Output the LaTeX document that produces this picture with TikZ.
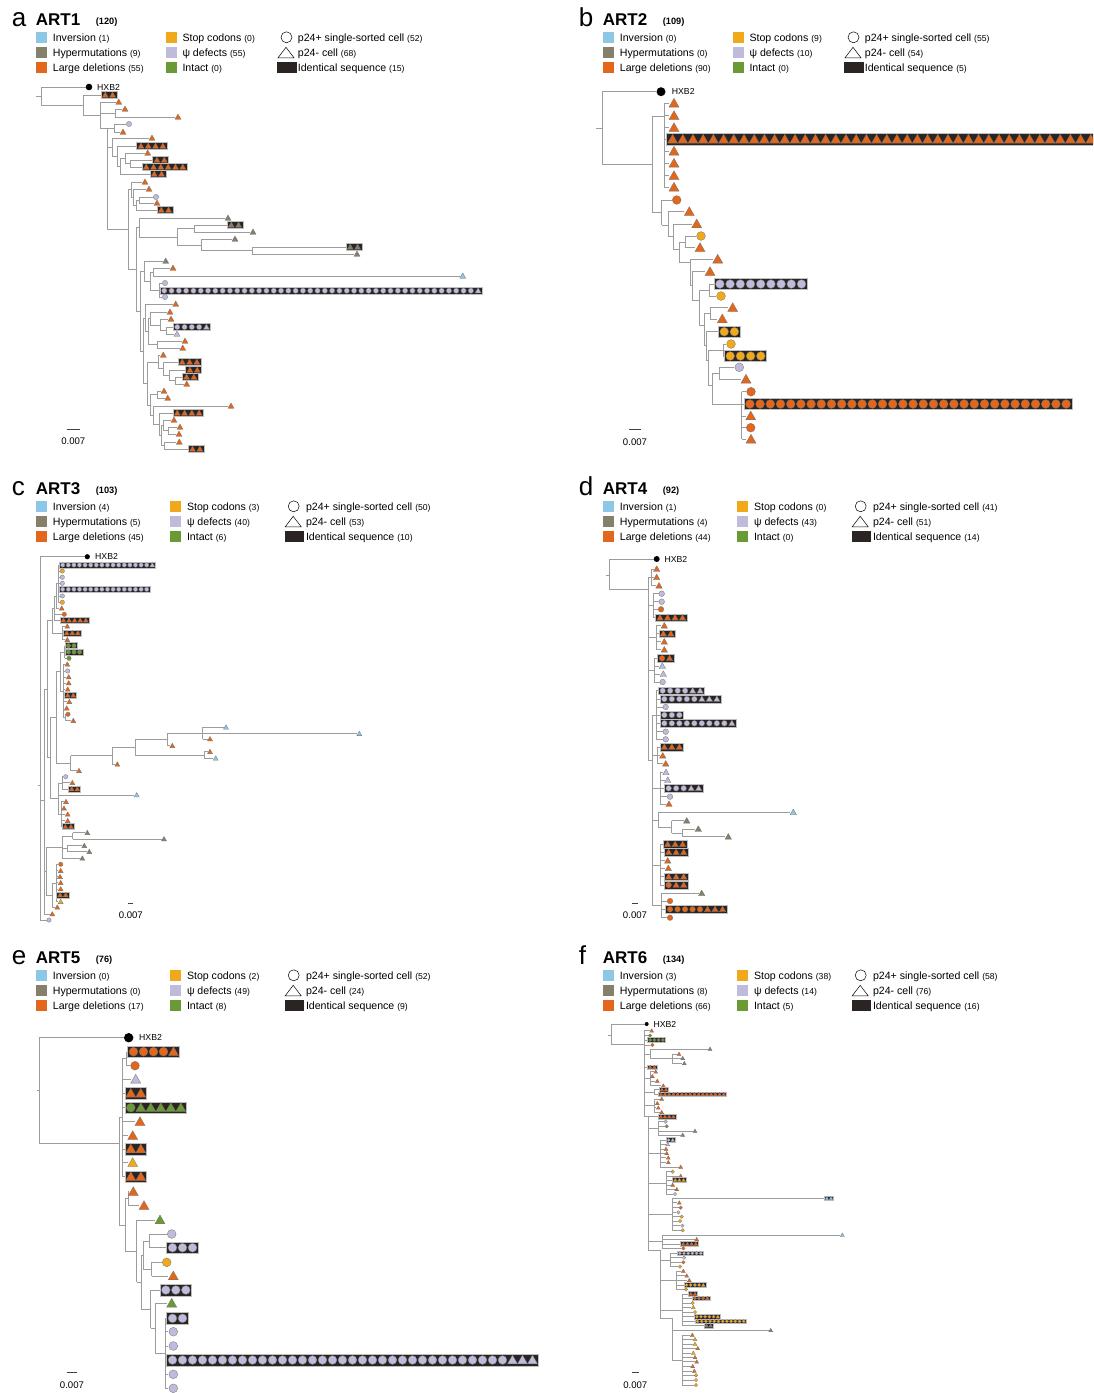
\documentclass[tikz,border=0pt]{standalone}
\usepackage{fontspec}
\setmainfont{Liberation Sans}

\definecolor{invc}{HTML}{8CC8E6}
\definecolor{hypc}{HTML}{857F6C}
\definecolor{delc}{HTML}{E2661B}
\definecolor{stpc}{HTML}{F1A91C}
\definecolor{psic}{HTML}{BEBBDB}
\definecolor{intc}{HTML}{6A9A35}
\definecolor{boxc}{HTML}{2A2422}
\definecolor{brc}{HTML}{9C9C9C}

\newcommand{\lgf}{\fontsize{10.6}{12}\selectfont}
\newcommand{\cntf}{\fontsize{8.6}{10}\selectfont}
\newcommand{\letf}{\fontsize{26}{30}\selectfont}
\newcommand{\titf}{\fontsize{17}{20}\selectfont\bfseries}
\newcommand{\hcnf}{\fontsize{9.2}{11}\selectfont\bfseries}
\newcommand{\hxbf}{\fontsize{8.7}{10}\selectfont}
\newcommand{\sclf}{\fontsize{9.6}{11}\selectfont}

% symbols: upper case = p24- triangle, lower case = p24+ circle
\newcommand{\trisym}[3]{\filldraw[symedge, fill=#1] ({#2-\symr},{#3+0.76*\symr}) -- ({#2+\symr},{#3+0.76*\symr}) -- ({#2},{#3-\symr}) -- cycle;}
\newcommand{\cirsym}[3]{\filldraw[symedge, fill=#1] ({#2},{#3}) circle[radius={0.88*\symr}];}
\newcommand{\symO}[2]{\trisym{delc}{#1}{#2}}
\newcommand{\symo}[2]{\cirsym{delc}{#1}{#2}}
\newcommand{\symL}[2]{\trisym{psic}{#1}{#2}}
\newcommand{\syml}[2]{\cirsym{psic}{#1}{#2}}
\newcommand{\symG}[2]{\trisym{hypc}{#1}{#2}}
\newcommand{\symg}[2]{\cirsym{hypc}{#1}{#2}}
\newcommand{\symB}[2]{\trisym{invc}{#1}{#2}}
\newcommand{\symb}[2]{\cirsym{invc}{#1}{#2}}
\newcommand{\symY}[2]{\trisym{stpc}{#1}{#2}}
\newcommand{\symy}[2]{\cirsym{stpc}{#1}{#2}}
\newcommand{\symN}[2]{\trisym{intc}{#1}{#2}}
\newcommand{\symn}[2]{\cirsym{intc}{#1}{#2}}
\newcommand{\symk}[2]{\fill[black] ({#1},{#2}) circle[radius=\dotr];}

% clade: parent x, x, top y, bottom y, y where it hangs
\newcommand{\cl}[5]{\draw[br] (#1,#5) -- (#2,#5); \draw[br] (#2,#3) -- (#2,#4);}
% single leaf: parent x, y, symbol centre x, code
\newcommand{\lf}[4]{\draw[br] (#1,#2) -- ({#3-\symr},#2); \csname sym#4\endcsname{#3}{#2}}
% identical sequences: parent x, y, box left x, code/count list
\newcommand{\bx}[4]{%
  \draw[br] (#1,#2) -- (#3,#2);
  \gdef\nn{0}%
  \foreach \cd/\nm in {#4} {\pgfmathtruncatemacro\tot{\nn+\nm}\global\let\nn\tot}%
  \filldraw[idbox] ({#3},{#2-\boxh}) rectangle ({#3+\nn*\symsep+2*\boxpad},{#2+\boxh});
  \gdef\nn{0}%
  \foreach \cd/\nm in {#4} {%
    \foreach \kk in {1,...,\nm} {\csname sym\cd\endcsname{#3+\boxpad+(\nn+\kk-0.5)*\symsep}{#2}}%
    \pgfmathtruncatemacro\tot{\nn+\nm}\global\let\nn\tot}%
}
\newcommand{\hdr}[3]{%
  \node[anchor=base west, inner sep=0pt, font=\letf] (\pn-let) at (11.7,26) {#1};
  \node[anchor=base west, inner sep=0pt, font=\titf] (\pn-tit) at (35.7,25) {#2};
  \node[anchor=base west, inner sep=0pt, font=\hcnf] (\pn-num) at (95.7,24) {(#3)};}
\newcommand{\lgd}[9]{%
  \fill[invc] (35.7,32.3) rectangle ++(11,10.5);
  \fill[hypc] (35.7,47.3) rectangle ++(11,10.5);
  \fill[delc] (35.7,62.3) rectangle ++(11,10.5);
  \node[lgtxt] (\pn-inv) at (52.7,41.3) {Inversion \cntf(#1)};
  \node[lgtxt] (\pn-hyp) at (52.7,56.3) {Hypermutations \cntf(#2)};
  \node[lgtxt] (\pn-del) at (52.7,71.3) {Large deletions \cntf(#3)};
  \fill[stpc] ({165.7+\lsh},32.3) rectangle ++(11,10.5);
  \fill[psic] ({165.7+\lsh},47.3) rectangle ++(11,10.5);
  \fill[intc] ({165.7+\lsh},62.3) rectangle ++(11,10.5);
  \node[lgtxt] (\pn-stp) at ({182.3+\lsh},41.3) {Stop codons \cntf(#4)};
  \node[lgtxt] (\pn-psi) at ({182.3+\lsh},56.3) {ψ defects \cntf(#5)};
  \node[lgtxt] (\pn-int) at ({182.3+\lsh},71.3) {Intact \cntf(#6)};
  \draw[lgsym] ({286.5+1.6*\lsh},37.3) circle[radius=5.5];
  \draw[lgsym] ({278+1.6*\lsh},57.8) -- ++(16,0) -- ++(-8,-10.5) -- cycle;
  \fill[boxc] ({277.3+1.6*\lsh},62.3) rectangle ++(19.4,10.5);
  \node[lgtxt] (\pn-pos) at ({297.7+1.8*\lsh},41.3) {p24+ single-sorted cell \cntf(#7)};
  \node[lgtxt] (\pn-neg) at ({297.7+1.8*\lsh},56.3) {p24- cell \cntf(#8)};
  \node[lgtxt] (\pn-idn) at ({297.7+1.8*\lsh},71.3) {Identical sequence \cntf(#9)};}
\newcommand{\sbar}[3]{\draw[sclbar] ({#1-#2},#3) -- ({#1+#2},#3);
  \node[sctxt] (\pn-scl) at (#1,{#3+15.3}) {0.007};}

\begin{document}
\begin{tikzpicture}[x=1pt, y=-1pt,
  br/.style={draw=brc, line width=0.6pt},
  symedge/.style={draw=black!55, line width=0.3pt},
  idbox/.style={fill=boxc, draw=black!25, line width=0.5pt},
  lgtxt/.style={anchor=base west, inner sep=0pt, font=\lgf},
  lgsym/.style={draw=black, line width=0.5pt},
  hxb/.style={anchor=west, inner sep=0pt, font=\hxbf},
  sclbar/.style={draw=black!75, line width=0.9pt},
  sctxt/.style={anchor=base, inner sep=0pt, font=\sclf}]
\fill[white] (0,0) rectangle (1093,1393);
\useasboundingbox (0,0) rectangle (1093,1393);
\clip (0,0) rectangle (1093,1393);

% ---- a: ART1
\begin{scope}
\def\pn{a}\def\symsep{7.3}\def\symr{3}\def\boxh{3.6}\def\boxpad{0.6}\def\dotr{3.3}
\begin{scope}[shift={(0,0)}]\def\lsh{0}
\hdr{a}{ART1}{120}
\lgd{1}{9}{55}{0}{55}{0}{52}{68}{15}
\end{scope}
\cl{36}{41}{87}{105}{96}
\lf{41}{87}{89}{k}
\node[hxb] (a-hxb) at (97,87) {HXB2};
\cl{41}{83}{95}{115}{105}
\bx{83}{95}{101}{O/2}
\cl{83}{100}{102}{128}{115}
\lf{100}{102}{118.7}{O}
\cl{100}{115}{109}{117}{113}
\lf{115}{109}{125}{O}
\lf{115}{117}{178}{O}
\cl{100}{107}{128}{229}{128}
\cl{107}{114}{124}{132}{128}
\lf{114}{124}{129}{l}
\lf{114}{132}{123}{O}
\cl{107}{112}{138}{156}{147}
\lf{112}{138}{152}{O}
\cl{112}{117}{146}{166}{156}
\bx{117}{146}{136.7}{O/4}
\cl{117}{120}{158}{174}{166}
\cl{120}{125}{153}{163.5}{158}
\lf{125}{153}{147.7}{O}
\cl{125}{130}{160}{167}{163.5}
\bx{130}{160}{152.7}{O/2}
\bx{130}{167}{142}{O/6}
\bx{120}{174}{150}{O/2}
\cl{107}{128}{189.5}{269}{229}
\cl{128}{131}{182}{197}{189.5}
\lf{131}{182}{145}{O}
\cl{131}{133}{189}{205}{197}
\lf{133}{189}{149}{O}
\cl{133}{136}{200}{210}{205}
\cl{136}{139}{197}{203}{200}
\lf{139}{197}{156}{l}
\lf{139}{203}{157}{O}
\bx{136}{210}{157}{O/2}
\cl{128}{136}{227.5}{311}{269}
\cl{136}{139}{218}{237}{227.5}
\lf{139}{218}{228}{G}
\cl{139}{177}{228.5}{245}{237}
\cl{177}{194}{225}{232}{228.5}
\bx{194}{225}{227}{G/2}
\lf{194}{232}{253}{G}
\cl{177}{201}{239}{250.5}{245}
\lf{201}{239}{235}{G}
\cl{201}{252}{247}{254}{250.5}
\bx{252}{247}{346}{G/2}
\lf{252}{254}{357}{G}
\cl{136}{140}{271}{351}{311}
\cl{140}{144}{261}{281}{271}
\lf{144}{261}{165.7}{G}
\cl{144}{150}{272}{290}{281}
\cl{150}{153}{268}{276}{272}
\lf{153}{268}{173}{O}
\lf{153}{276}{462.7}{B}
\cl{150}{159}{283}{297}{290}
\lf{159}{283}{165}{l}
\bx{159}{290.7}{160}{l/43,L/1}
\lf{159}{297}{165}{l}
\cl{140}{143}{318}{383.5}{351}
\cl{143}{145}{304}{331.5}{318}
\lf{145}{304}{175.7}{O}
\cl{145}{148}{318.5}{344.5}{331.5}
\cl{148}{150}{312}{325}{318.5}
\lf{150}{312}{170}{O}
\cl{150}{160}{319}{330.5}{325}
\lf{160}{319}{171}{O}
\cl{160}{166}{327}{334}{330.5}
\bx{166}{327}{173}{l/4,L/1}
\lf{166}{334}{177}{L}
\cl{148}{157}{341}{348}{344.5}
\lf{157}{341}{185}{O}
\lf{157}{348}{182.7}{O}
\cl{143}{147}{362}{405}{383.5}
\cl{147}{158}{355}{368.5}{362}
\lf{158}{355}{163.3}{O}
\cl{158}{163}{362}{375}{368.5}
\bx{163}{362}{178}{O/3}
\cl{163}{169}{370}{380.5}{375}
\bx{169}{370}{185.7}{O/2}
\cl{169}{175}{377}{384}{380.5}
\bx{175}{377}{182.3}{O/2}
\lf{175}{384}{186.7}{O}
\cl{147}{150}{394.5}{415}{405}
\cl{150}{157}{391}{398}{394.5}
\lf{157}{391}{164}{O}
\lf{157}{398}{167.7}{O}
\cl{150}{153}{406}{424}{415}
\lf{153}{406}{231}{O}
\cl{153}{159}{413}{435}{424}
\bx{159}{413}{173}{O/4}
\cl{159}{161}{425}{445.5}{435}
\cl{161}{163}{420}{430.5}{425}
\lf{163}{420}{174}{O}
\cl{163}{168}{427}{434}{430.5}
\lf{168}{427}{180}{O}
\lf{168}{434}{179}{O}
\cl{161}{164}{442}{449}{445.5}
\lf{164}{442}{179.3}{O}
\bx{164}{449}{188.3}{O/2}
\sbar{73.3}{6.7}{429}
\end{scope}

% ---- b: ART2
\begin{scope}
\def\pn{b}\def\symsep{10.2}\def\symr{5}\def\boxh{5.6}\def\boxpad{0.8}\def\dotr{4.5}
\begin{scope}[shift={(567,0)}]\def\lsh{0}
\hdr{b}{ART2}{109}
\lgd{0}{0}{90}{9}{10}{0}{55}{54}{5}
\end{scope}
\cl{596}{602.3}{91.7}{164.3}{128.3}
\lf{602.3}{91.7}{661}{k}
\node[hxb] (b-hxb) at (671.7,91.7) {HXB2};
\cl{602.3}{652.7}{116}{212.7}{164.3}
\cl{652.7}{664}{103.3}{187.3}{116}
\lf{664}{103.3}{674}{O}
\lf{664}{115.7}{674}{O}
\lf{664}{127.7}{674}{O}
\bx{664}{139.3}{666.7}{O/42}
\lf{664}{151.3}{674}{O}
\lf{664}{163.3}{674}{O}
\lf{664}{175.7}{674}{O}
\lf{664}{187.3}{674}{O}
\cl{652.7}{661.7}{200}{225}{212.7}
\lf{661.7}{200}{676.7}{o}
\cl{661.7}{668.3}{211.7}{236.7}{225}
\lf{668.3}{211.7}{689.3}{O}
\cl{668.3}{673.3}{224}{249.3}{236.7}
\lf{673.3}{224}{696.7}{O}
\cl{673.3}{679.3}{241.8}{262}{249.3}
\cl{679.3}{685}{236}{247.7}{241.8}
\lf{685}{236}{701}{y}
\lf{685}{247.7}{700}{O}
\cl{679.3}{690}{259.3}{285}{262}
\lf{690}{259.3}{717.7}{O}
\cl{690}{692.3}{271.7}{300}{285}
\lf{692.3}{271.7}{710}{O}
\cl{692.3}{699}{290}{325}{300}
\cl{699}{709}{284}{296}{290}
\bx{709}{284}{714}{l/9}
\lf{709}{296}{721}{y}
\cl{699}{704}{313.3}{345}{325}
\cl{704}{710}{307.7}{319}{313.3}
\lf{710}{307.7}{732.7}{O}
\lf{710}{319}{722.3}{O}
\cl{704}{706}{331.7}{360}{345}
\bx{706}{331.7}{718.3}{y/2}
\cl{706}{708}{350}{385}{360}
\cl{708}{723.3}{344}{356}{350}
\lf{723.3}{344}{731}{y}
\bx{723.3}{356}{724.3}{y/4}
\cl{708}{712}{373.3}{404}{385}
\cl{712}{719}{367.3}{379.3}{373.3}
\lf{719}{367.3}{739.3}{l}
\lf{719}{379.3}{746}{O}
\cl{712}{741.7}{391.7}{439.3}{404}
\lf{741.7}{391.7}{751}{o}
\bx{741.7}{404}{744}{o/32}
\lf{741.7}{416}{750.7}{O}
\lf{741.7}{427.7}{750.7}{o}
\lf{741.7}{439.3}{751}{O}
\sbar{635}{5.7}{429.7}
\end{scope}

% ---- c: ART3
\begin{scope}
\def\pn{c}\def\symsep{5.6}\def\symr{2.5}\def\boxh{3}\def\boxpad{0.6}\def\dotr{2.6}
\begin{scope}[shift={(0,469)}]\def\lsh{4.5}
\hdr{c}{ART3}{103}
\lgd{4}{5}{45}{3}{40}{6}{50}{53}{10}
\end{scope}
\cl{37.5}{40}{556.7}{920}{785}
\lf{40}{556.7}{87.3}{k}
\node[hxb] (c-hxb) at (95,556.7) {HXB2};
\cl{56}{58.3}{565}{602.3}{583.7}
\bx{58.3}{565}{59.3}{l/16,L/1}
\lf{58.3}{571}{62.3}{y}
\lf{58.3}{577.3}{62.3}{l}
\lf{58.3}{583.3}{62.3}{l}
\bx{58.3}{589.3}{59.3}{l/16}
\lf{58.3}{596}{62.3}{l}
\lf{58.3}{602.3}{62.3}{y}
\cl{54}{56}{583.7}{608.3}{596}
\lf{56}{608.3}{61.7}{O}
\cl{52}{54}{596}{620.3}{608}
\lf{54}{614.3}{64.3}{o}
\bx{54}{620.3}{60}{O/5}
\cl{52}{62}{626.3}{639.7}{633}
\lf{62}{626.3}{67.3}{O}
\bx{62}{633}{63.3}{O/3}
\lf{62}{639.7}{67.3}{O}
\cl{47}{52}{608}{633}{620.5}
\cl{60}{64.7}{645.7}{658.3}{652}
\bx{64.7}{645.7}{65}{n/2}
\bx{64.7}{652}{65}{n/3}
\lf{64.7}{658.3}{69}{n}
\cl{60}{63}{664.3}{717.5}{691}
\lf{63}{664.3}{67.3}{O}
\lf{63}{671}{67.7}{l}
\lf{63}{677}{68.7}{O}
\lf{63}{683}{68.7}{O}
\lf{63}{689.3}{67.7}{O}
\bx{63}{695.3}{64.3}{O/2}
\lf{63}{701.7}{69.3}{O}
\lf{63}{708.3}{66.7}{O}
\cl{63}{65}{714.3}{720.7}{717.5}
\lf{65}{714.3}{68}{o}
\lf{65}{720.7}{73.3}{O}
\cl{56}{60}{652}{691}{671.5}
\cl{167.3}{202.7}{727.3}{739}{733}
\lf{202.7}{727.3}{226}{B}
\lf{202.7}{733.7}{359.3}{B}
\lf{202.7}{739}{210}{O}
\cl{135}{167.3}{733}{745.7}{739.4}
\lf{167.3}{745.7}{172.3}{O}
\cl{135}{204}{751.7}{758.3}{755}
\lf{204}{751.7}{210}{O}
\lf{204}{758.3}{215.7}{B}
\cl{112.3}{135}{739.4}{755}{747}
\cl{70.7}{112.3}{747}{764.3}{755.6}
\lf{112.3}{764.3}{117.3}{O}
\cl{56}{70.7}{755.6}{770.7}{763}
\lf{70.7}{770.7}{79}{O}
\cl{50}{56}{671.5}{763}{717}
\cl{50}{58}{782.8}{814}{798}
\cl{58}{62}{776.7}{789}{782.8}
\lf{62}{776.7}{65.7}{l}
\lf{62}{782.7}{72.3}{O}
\bx{62}{789}{68.3}{O/2}
\lf{58}{795}{136.7}{B}
\cl{58}{61}{801.7}{826.7}{814}
\lf{61}{801.7}{66}{O}
\lf{61}{808.3}{64}{O}
\lf{61}{814.3}{67.7}{O}
\lf{61}{820.7}{67.7}{O}
\bx{61}{826.7}{62}{O/2}
\cl{47}{50}{717}{798}{757.5}
\cl{44}{47}{620.5}{757.5}{689}
\cl{62}{72.7}{832.7}{839}{836}
\lf{72.7}{832.7}{87.3}{G}
\lf{72.7}{839}{164}{G}
\cl{62}{67.3}{845.7}{851.7}{848.7}
\lf{67.3}{845.7}{84.3}{G}
\lf{67.3}{851.7}{89.3}{G}
\cl{46}{62}{836}{858.3}{847}
\lf{62}{858.3}{82.3}{G}
\cl{52}{56}{864.3}{901.7}{883}
\lf{56}{864.3}{60.7}{o}
\lf{56}{870.7}{60.7}{O}
\lf{56}{876.7}{60}{O}
\lf{56}{882.7}{60.7}{O}
\lf{56}{889}{60.7}{O}
\bx{56}{895}{56.7}{O/2}
\lf{56}{901.7}{60.7}{Y}
\cl{46}{52}{883}{907.3}{895}
\lf{52}{907.3}{57.3}{O}
\cl{44}{46}{847}{895}{871}
\cl{40}{44}{689}{914}{800}
\lf{44}{914}{52.3}{O}
\lf{40}{920}{49}{l}
\sbar{130.8}{2.5}{903.3}
\end{scope}

% ---- d: ART4
\begin{scope}
\def\pn{d}\def\symsep{7.5}\def\symr{3.2}\def\boxh{3.8}\def\boxpad{0.6}\def\dotr{3}
\begin{scope}[shift={(567,469)}]\def\lsh{4.5}
\hdr{d}{ART4}{92}
\lgd{1}{4}{44}{0}{43}{0}{41}{51}{14}
\end{scope}
\cl{606}{609.3}{559}{589}{575}
\lf{609.3}{559}{656.7}{k}
\node[hxb] (d-hxb) at (664.3,559) {HXB2};
\cl{609.3}{648}{577.2}{760}{589}
\cl{648}{651}{569}{585.7}{577.2}
\lf{651}{569}{656.7}{O}
\lf{651}{577.3}{656.7}{O}
\lf{651}{585.7}{659}{O}
\cl{648}{653}{593.7}{617.7}{605.7}
\lf{653}{593.7}{661.7}{l}
\lf{653}{601.7}{661.7}{l}
\lf{653}{609.3}{661}{o}
\bx{653}{617.7}{655.7}{O/4}
\cl{648}{656}{625.7}{649.7}{637.7}
\lf{656}{625.7}{664.3}{O}
\bx{656}{633.7}{659}{O/2}
\lf{656}{641.7}{664.3}{O}
\lf{656}{649.7}{664.3}{O}
\cl{648}{654}{658.3}{682}{670}
\bx{654}{658.3}{657.7}{o/1,O/1}
\lf{654}{666}{662.3}{L}
\lf{654}{674}{663.3}{L}
\lf{654}{682}{662.7}{l}
\cl{648}{652}{715}{905}{760}
\cl{652}{656}{690.7}{739.3}{715}
\bx{656}{690.7}{658.3}{l/4,L/2}
\bx{656}{699}{660}{l/5,L/3}
\lf{656}{707}{665.7}{l}
\bx{656}{715}{660}{l/3}
\bx{656}{723.3}{660}{l/9,L/1}
\lf{656}{731.7}{665.7}{l}
\lf{656}{739.3}{665.7}{l}
\cl{652}{657}{747}{763.7}{755}
\bx{657}{747}{660}{O/3}
\lf{657}{755.7}{662.7}{O}
\lf{657}{763.7}{665.7}{O}
\cl{652}{660}{772.3}{804}{788}
\lf{660}{772.3}{666}{L}
\lf{660}{780}{667.7}{L}
\bx{660}{788.3}{664.3}{l/3,L/2}
\lf{660}{796.7}{670}{l}
\lf{660}{804}{669}{O}
\cl{652}{658}{812.3}{827}{820}
\lf{658}{812.3}{793.3}{B}
\cl{658}{671.7}{820.7}{833}{827}
\lf{671.7}{820.7}{686.7}{G}
\cl{671.7}{682.7}{829}{836.7}{833}
\lf{682.7}{829}{698.3}{G}
\lf{682.7}{836.7}{728.3}{G}
\cl{652}{660}{844.3}{885}{865}
\bx{660}{844.3}{663.3}{O/3}
\bx{660}{852.3}{664.3}{O/3}
\lf{660}{860.7}{667.7}{O}
\lf{660}{868.3}{668.3}{O}
\bx{660}{876.7}{664.3}{O/3}
\bx{660}{885}{664.3}{o/1,O/2}
\cl{652}{661}{893.3}{917.7}{905}
\lf{661}{893.3}{701.7}{G}
\lf{661}{901}{670}{o}
\bx{661}{909.3}{665.7}{o/5,O/3}
\lf{661}{917.7}{670}{o}
\sbar{635}{3.3}{903.3}
\end{scope}

% ---- e: ART5
\begin{scope}
\def\pn{e}\def\symsep{10}\def\symr{5}\def\boxh{5.8}\def\boxpad{0.8}\def\dotr{4.7}
\begin{scope}[shift={(0,938)}]\def\lsh{4.5}
\hdr{e}{ART5}{76}
\lgd{0}{0}{17}{2}{49}{8}{52}{24}{9}
\end{scope}
\cl{37.3}{39}{1037.7}{1143.3}{1090.7}
\lf{39}{1037.7}{128.7}{k}
\node[hxb] (e-hxb) at (139,1037.7) {HXB2};
\cl{39}{119.3}{1117}{1225}{1143.3}
\cl{119.3}{122}{1058.7}{1176.7}{1117}
\cl{122}{126.7}{1051.7}{1065.7}{1058.7}
\bx{126.7}{1051.7}{127.7}{o/4,O/1}
\lf{126.7}{1065.7}{135}{o}
\lf{122}{1079.3}{135.7}{L}
\bx{122}{1093.3}{125}{O/2}
\bx{122}{1107.7}{125}{n/1,N/5}
\lf{122}{1121.7}{140}{O}
\lf{122}{1135.7}{132.7}{O}
\bx{122}{1149}{125}{O/2}
\lf{122}{1162.7}{132.7}{Y}
\bx{122}{1176.7}{125}{O/2}
\cl{119.3}{125}{1198.7}{1251}{1225}
\cl{125}{128}{1191.7}{1205.7}{1198.7}
\lf{128}{1191.7}{133.3}{O}
\lf{128}{1205.7}{144}{O}
\cl{125}{136.7}{1220}{1282}{1251}
\lf{136.7}{1220}{160}{N}
\cl{136.7}{141}{1255}{1309}{1282}
\cl{141}{143}{1240.8}{1269}{1255}
\cl{143}{149.3}{1234}{1247.7}{1240.8}
\lf{149.3}{1234}{171.7}{l}
\bx{149.3}{1247.7}{166.7}{l/3}
\cl{143}{151.7}{1262.3}{1276}{1269}
\lf{151.7}{1262.3}{166.7}{y}
\lf{151.7}{1276}{173.3}{O}
\cl{141}{150.7}{1290}{1328}{1309}
\bx{150.7}{1290}{160}{l/3}
\cl{150.7}{155}{1303.3}{1353}{1328}
\lf{155}{1303.3}{171.7}{N}
\cl{155}{165}{1318.3}{1388.3}{1353}
\bx{165}{1318.3}{166.7}{l/2}
\lf{165}{1331.7}{173.3}{l}
\lf{165}{1346}{173.3}{l}
\bx{165}{1360}{166.7}{l/34,L/3}
\lf{165}{1374.3}{173.3}{l}
\lf{165}{1388.3}{173.3}{l}
\sbar{72}{5.3}{1372.7}
\end{scope}

% ---- f: ART6
\begin{scope}
\def\pn{f}\def\symsep{4.2}\def\symr{2}\def\boxh{2.4}\def\boxpad{0.4}\def\dotr{2}
\begin{scope}[shift={(567,938)}]\def\lsh{4.5}
\hdr{f}{ART6}{134}
\lgd{3}{8}{66}{38}{14}{5}{58}{76}{16}
\end{scope}
\cl{608}{611}{1024}{1044.3}{1035}
\lf{611}{1024}{646.7}{k}
\node[hxb] (f-hxb) at (653.3,1024) {HXB2};
\cl{611}{644}{1030.7}{1116.7}{1044.3}
\lf{644}{1030.7}{651.7}{O}
\lf{644}{1035.7}{650}{n}
\bx{644}{1040}{647.7}{n/4}
\lf{644}{1045}{652.3}{o}
\cl{644}{650}{1049}{1058.7}{1054}
\lf{650}{1049}{710}{G}
\cl{650}{672}{1054}{1063.3}{1058.7}
\lf{672}{1054}{679}{O}
\lf{672}{1058.3}{682.7}{G}
\lf{672}{1063.3}{684.3}{G}
\bx{644}{1067.3}{647.7}{O/2}
\cl{644}{650}{1071.7}{1085.7}{1078.7}
\lf{650}{1071.7}{655.7}{O}
\lf{650}{1076.3}{652.3}{O}
\lf{650}{1081}{657.3}{O}
\lf{650}{1085.7}{663.3}{O}
\cl{644}{654}{1089.7}{1094.3}{1092}
\bx{654}{1089.7}{659.3}{O/2}
\bx{654}{1094.3}{658.3}{O/16}
\cl{644}{654}{1099}{1112.3}{1105.7}
\lf{654}{1099}{661.7}{O}
\lf{654}{1103.3}{657.3}{O}
\lf{654}{1107.7}{658.3}{O}
\lf{654}{1112.3}{661.7}{O}
\cl{644}{648}{1116.7}{1250}{1116.7}
\bx{648}{1116.7}{658.3}{O/4}
\cl{648}{658}{1121.7}{1135}{1128}
\lf{658}{1121.7}{665.7}{l}
\lf{658}{1126.3}{666.7}{n}
\lf{658}{1131}{695}{G}
\lf{658}{1135}{682.7}{G}
\cl{648}{660}{1140}{1167}{1153.5}
\bx{660}{1140}{666}{l/1,L/1}
\lf{660}{1144.3}{667.7}{L}
\lf{660}{1149}{666}{O}
\lf{660}{1153.3}{666.7}{O}
\lf{660}{1157.7}{668.3}{O}
\lf{660}{1162.3}{668.3}{O}
\lf{660}{1167}{680.7}{O}
\cl{648}{666}{1171.7}{1194}{1183}
\lf{666}{1171.7}{672.7}{y}
\lf{666}{1176}{680.7}{O}
\bx{666}{1180}{672.7}{Y/3}
\lf{666}{1185}{672.7}{O}
\lf{666}{1189.3}{676.7}{O}
\lf{666}{1194}{675}{l}
\cl{648}{672}{1198.3}{1230.3}{1214}
\bx{672}{1198.3}{824.3}{B/2}
\lf{672}{1202.7}{679.3}{O}
\lf{672}{1207.7}{680.7}{o}
\lf{672}{1212.3}{678.3}{l}
\lf{672}{1216.7}{681.7}{y}
\lf{672}{1221}{680}{y}
\lf{672}{1225.7}{682.3}{l}
\lf{672}{1230.3}{682.7}{y}
\cl{648}{662}{1235}{1248.3}{1241.6}
\lf{662}{1235}{842.3}{B}
\lf{662}{1239.3}{696.7}{O}
\bx{662}{1244}{680.7}{O/4}
\lf{662}{1248.3}{683.3}{o}
\cl{648}{660}{1250}{1318}{1250}
\cl{660}{670}{1253.3}{1266.7}{1260}
\bx{670}{1253.3}{677.3}{l/6}
\lf{670}{1257.7}{684}{l}
\lf{670}{1262.3}{683.3}{o}
\lf{670}{1266.7}{680}{y}
\cl{660}{676}{1271}{1289.3}{1280}
\lf{676}{1271}{683.3}{O}
\lf{676}{1275.7}{686.7}{O}
\lf{676}{1280.3}{689.3}{O}
\bx{676}{1285}{684}{y/4,Y/1}
\lf{676}{1289.3}{686}{y}
\cl{660}{682}{1294}{1325.7}{1310}
\bx{682}{1294}{688.3}{O/2}
\bx{682}{1298.3}{692.3}{o/3,O/1}
\lf{682}{1303}{692.7}{y}
\lf{682}{1307.3}{693.3}{Y}
\lf{682}{1312}{695}{y}
\bx{682}{1316.7}{694.3}{y/5,Y/1}
\bx{682}{1321.3}{695}{y/12}
\bx{682}{1325.7}{704}{G/2}
\cl{660}{672}{1318}{1360}{1318}
\lf{672}{1330.3}{770.7}{G}
\cl{672}{682}{1335}{1385}{1360}
\lf{682}{1335}{692.3}{O}
\lf{682}{1339.3}{695}{Y}
\lf{682}{1344}{695}{Y}
\lf{682}{1348.3}{697.7}{O}
\lf{682}{1353}{693.3}{Y}
\lf{682}{1357.3}{695}{O}
\lf{682}{1361.7}{696.7}{O}
\lf{682}{1366.3}{692.7}{O}
\lf{682}{1371}{694.3}{O}
\lf{682}{1375.3}{696}{y}
\lf{682}{1380}{696}{y}
\lf{682}{1385}{696}{y}
\sbar{635.3}{3.7}{1372.7}
\end{scope}
\end{tikzpicture}
\end{document}
